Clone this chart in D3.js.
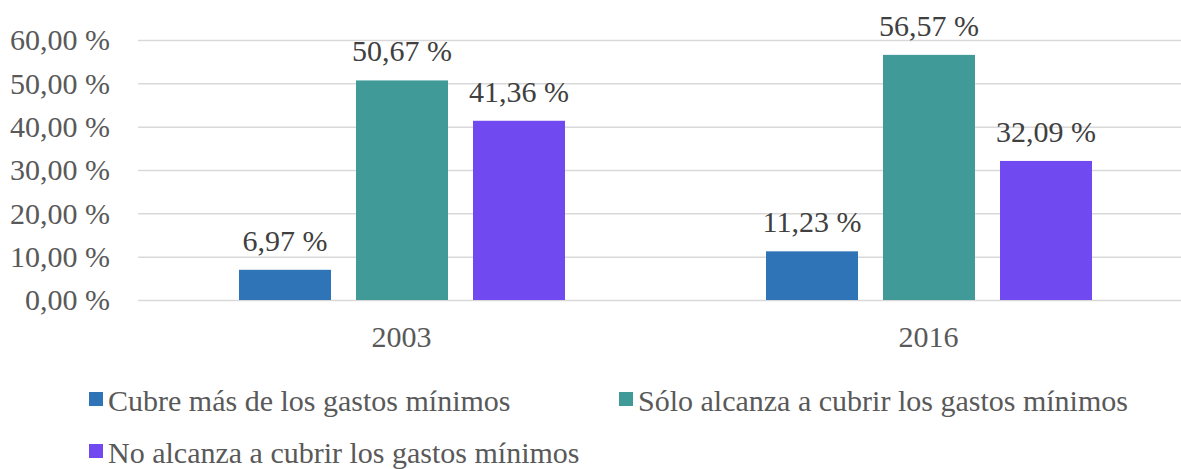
<!DOCTYPE html>
<html><head><meta charset="utf-8">
<script src="https://cdn.jsdelivr.net/npm/d3@7"></script>
<style>svg text{font-family:"Liberation Serif","Times New Roman",Tinos !important}</style>
</head><body style="margin:0;background:#fff">
<svg id="c" width="1181" height="469"></svg>
<script>
const categories = ["2003", "2016"];
const seriesNames = ["Cubre más de los gastos mínimos", "Sólo alcanza a cubrir los gastos mínimos", "No alcanza a cubrir los gastos mínimos"];
const cubreMas = [6.97, 11.23];
const soloAlcanza = [50.67, 56.57];
const noAlcanza = [41.36, 32.09];
const yTicks = [0, 10, 20, 30, 40, 50, 60];
const colors = ["#2e74b6", "#409a98", "#7049f1"];

const series = [cubreMas, soloAlcanza, noAlcanza];
const fmt = v => v.toFixed(2).replace(".", ",") + " %";
const FF = '"Liberation Serif", "Times New Roman", Tinos';

const svg = d3.select("#c").attr("font-family", FF);
const fs = 30;
const y = d3.scaleLinear().domain([0, 60]).range([300, 40]);
const x0 = d3.scaleBand().domain(categories).range([138, 1192]).padding(0);
const x1 = d3.scaleBand().domain(d3.range(3)).range([101, 427]).paddingInner(25/117).paddingOuter(0);

function serif(sel) {
  sel.attr("font-family", FF).style("font-family", FF, "important");
  return sel;
}

// grid + y axis
const yAxis = d3.axisLeft(y).tickValues(yTicks).tickSize(-(1192-138)).tickFormat(fmt).tickPadding(28);
const gy = svg.append("g").attr("transform", "translate(138,0)").call(yAxis);
gy.attr("font-family", FF);
gy.select(".domain").remove();
gy.selectAll("line").attr("stroke", "#d9d9d9").attr("stroke-width", 1.5);
serif(gy.selectAll("text").attr("font-size", fs).attr("fill", "#595959").attr("dy", "0.33em"));

// bars + labels
categories.forEach((cat, i) => {
  series.forEach((s, j) => {
    const bx = x0(cat) + x1(j);
    svg.append("rect").attr("x", bx).attr("y", y(s[i])).attr("width", x1.bandwidth())
      .attr("height", y(0) - y(s[i])).attr("fill", colors[j]);
    serif(svg.append("text").attr("x", bx + x1.bandwidth()/2).attr("y", y(s[i]) - 19)
      .attr("text-anchor", "middle").attr("font-size", fs)
      .attr("fill", "#404040").text(fmt(s[i])));
  });
});

// x axis labels
const xAxis = d3.axisBottom(x0).tickSize(0).tickPadding(0);
const gx = svg.append("g").attr("transform", "translate(0,300)").call(xAxis);
gx.attr("font-family", FF);
gx.select(".domain").remove();
serif(gx.selectAll("text").attr("font-size", fs).attr("fill", "#595959")
  .attr("y", 47).attr("dy", null));

// legend
const legPos = [[89, 411], [619, 411], [89, 463]];
seriesNames.forEach((n, j) => {
  const g = svg.append("g").attr("transform", `translate(${legPos[j][0]},${legPos[j][1]})`);
  g.append("rect").attr("x", 0).attr("y", -19).attr("width", 14).attr("height", 14).attr("fill", colors[j]);
  serif(g.append("text").attr("x", 19).attr("y", 0).attr("font-size", fs)
    .attr("fill", "#595959").text(n));
});
</script>
</body></html>
